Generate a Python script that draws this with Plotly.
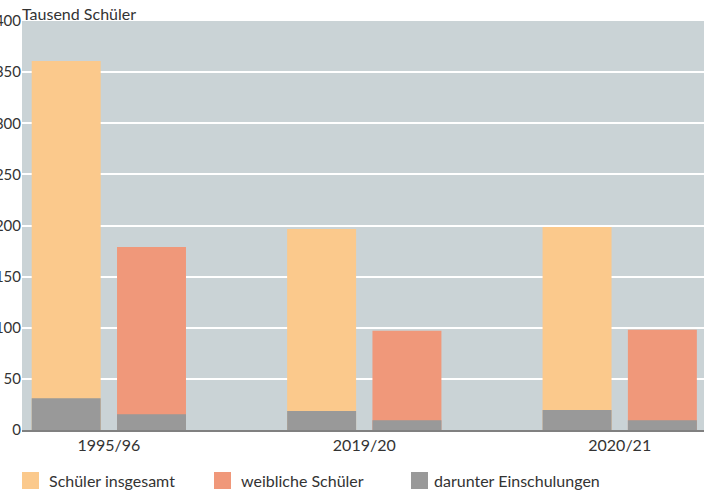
import plotly.graph_objects as go

categories = ["1995/96", "2019/20", "2020/21"]
schueler_insgesamt = [361, 196.5, 198.5]
weibliche_schueler = [179, 97, 98]
einschulungen_insgesamt = [31, 18.5, 19.5]
einschulungen_weiblich = [15.5, 9.5, 9.5]
y_ticks = [0, 50, 100, 150, 200, 250, 300, 350, 400]
legend_labels = ["Schüler insgesamt", "weibliche Schüler", "darunter Einschulungen"]

FONT = "Lato, 'Noto Sans', sans-serif"
C_ORANGE = "#fbc98c"
C_RED = "#f0987a"
C_GRAY = "#999999"
legend_colors = [C_ORANGE, C_RED, C_GRAY]

W = 0.27
OFF_L = -0.302
OFF_R = 0.032

fig = go.Figure()
fig.add_bar(x=categories, y=schueler_insgesamt, name=legend_labels[0],
            marker=dict(color=C_ORANGE, line=dict(width=0)), width=W, offset=OFF_L)
fig.add_bar(x=categories, y=weibliche_schueler, name=legend_labels[1],
            marker=dict(color=C_RED, line=dict(width=0)), width=W, offset=OFF_R)
fig.add_bar(x=categories, y=einschulungen_insgesamt, name=legend_labels[2],
            marker=dict(color=C_GRAY, line=dict(width=0)), width=W, offset=OFF_L)
fig.add_bar(x=categories, y=einschulungen_weiblich, name=legend_labels[2],
            marker=dict(color=C_GRAY, line=dict(width=0)), width=W, offset=OFF_R)

# legend drawn as shapes + text (pixel layout converted to paper coords)
PLOT_L, PLOT_W, PLOT_B, PLOT_H = 22, 682, 430, 409
def px(xp):
    return (xp - PLOT_L) / PLOT_W
def py(yp):
    return (PLOT_B - yp) / PLOT_H

sq_left = [22, 214, 411]
txt_left = [48, 240, 433]
shapes = []
annotations = [dict(text="Tausend Schüler", xref="paper", yref="paper", x=0, y=1,
                    xanchor="left", yanchor="bottom", showarrow=False,
                    font=dict(size=16, color="#333333"), xshift=-2, yshift=-4)]
for lbl, col, sl, tl in zip(legend_labels, legend_colors, sq_left, txt_left):
    shapes.append(dict(type="rect", xref="paper", yref="paper",
                       x0=px(sl), x1=px(sl + 17), y0=py(489), y1=py(472),
                       fillcolor=col, line=dict(width=0)))
    annotations.append(dict(text=lbl, xref="paper", yref="paper", x=px(tl), y=py(480),
                            xanchor="left", yanchor="middle", showarrow=False,
                            font=dict(size=16, color="#333333"), xshift=-1))

fig.update_layout(
    width=710, height=494,
    barmode="overlay",
    margin=dict(l=22, r=6, t=21, b=64, autoexpand=False),
    paper_bgcolor="white",
    plot_bgcolor="#cad3d6",
    font=dict(family=FONT, size=16, color="#333333"),
    showlegend=False,
    xaxis=dict(range=[-0.34, 2.33], showgrid=False, showline=True, automargin=False,
               linecolor="#808080", linewidth=2, ticks="", tickfont=dict(size=16)),
    yaxis=dict(range=[0, 400], tickvals=y_ticks, showgrid=True, gridcolor="white",
               gridwidth=2, zeroline=False, showline=False, ticks="", automargin=False,
               tickfont=dict(size=15), ticklabelstandoff=0),
    shapes=shapes,
    annotations=annotations,
)

fig.write_html("out.html", config={"displayModeBar": False},
               post_script="document.body.style.margin='0';")
